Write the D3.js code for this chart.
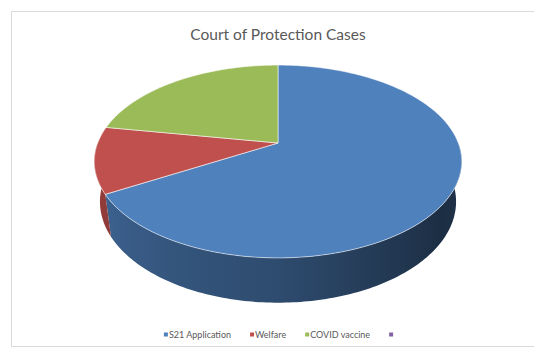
<!DOCTYPE html>
<html>
<head>
<meta charset="utf-8">
<script src="https://cdn.jsdelivr.net/npm/d3@7"></script>
<style>
  html, body { margin: 0; padding: 0; background: #ffffff; }
  svg { display: block; }
</style>
</head>
<body>
<svg id="chart" width="534" height="349"></svg>
<script>
// Court of Protection cases by type
const categories = ["S21 Application", "Welfare", "COVID vaccine", ""];
const values = [6, 1, 2, 0];
const seriesColors = ["#4f81bd", "#c0504d", "#9bbb59", "#8064a2"];
const chartTitle = "Court of Protection Cases";

const W = 534, H = 349;
const svg = d3.select("#chart");
const defs = svg.append("defs");

// chart frame
svg.append("rect")
  .attr("x", 11.5).attr("y", 11.5)
  .attr("width", W).attr("height", 335)
  .attr("fill", "#ffffff")
  .attr("stroke", "#d9d9d9");

// title
svg.append("text")
  .attr("x", 278).attr("y", 40)
  .attr("text-anchor", "middle")
  .attr("font-family", "Lato, 'Open Sans', sans-serif")
  .attr("font-size", 15.5)
  .attr("fill", "#595959")
  .text(chartTitle);

// --- 3D pie projection (perspective view of a tilted disc) ---
const cx = 278, cy = 143;          // screen position of pie centre (top face)
const elev = 31 * Math.PI / 180;   // viewing elevation
const sE = Math.sin(elev), cE = Math.cos(elev);
const dist = 4.47;                 // camera distance (in radius units)
const focal = 806;                 // projection scale
const thick = 0.266;               // pie thickness (in radius units)

function project(phi, r, z) {
  // phi: clockwise from 12 o'clock; z: 0 = top face, 1 = bottom face
  const X = r * Math.sin(phi);
  const Y = -r * Math.cos(phi);      // positive towards the viewer
  const Z = -thick * z;
  const depth = dist - Y * cE - Z * sE;
  return [cx + focal * X / depth, cy + focal * (Y * sE - Z * cE) / depth];
}

const pie = d3.pie().sort(null).value(d => d.value);
const arcs = pie(categories.map((c, i) => ({ name: c, value: values[i], color: seriesColors[i] })))
  .filter(a => a.endAngle - a.startAngle > 0);

// side wall shading: darkness by angle around the rim (degrees)
const sideDark = d3.scaleLinear()
  .domain([90, 125, 180, 240, 270])
  .range([2.3, 2.9, 1.5, 0.8, 0.7])
  .clamp(true);

const step = Math.PI / 180;
const line = d3.line();

// front wall of each slice, shaded with a horizontal gradient that follows the rim angle
const xLeft = project(3 * Math.PI / 2, 1, 0)[0];
const xRight = project(Math.PI / 2, 1, 0)[0];
const gSide = svg.append("g");
arcs.forEach((a, i) => {
  const lo = Math.max(a.startAngle, Math.PI / 2);
  const hi = Math.min(a.endAngle, 3 * Math.PI / 2);
  if (hi <= lo) return;
  const n = Math.max(2, Math.ceil((hi - lo) / step));
  const topPts = [], botPts = [];
  for (let k = 0; k <= n; k++) {
    const p = lo + (hi - lo) * k / n;
    topPts.push(project(p, 1, 0));
    botPts.push(project(p, 1, 1));
  }
  const grad = defs.append("linearGradient")
    .attr("id", "side" + i)
    .attr("gradientUnits", "userSpaceOnUse")
    .attr("x1", xLeft).attr("y1", 0)
    .attr("x2", xRight).attr("y2", 0);
  const stops = [];
  for (let deg = 270; deg >= 90; deg -= 5) {
    const px = project(deg * Math.PI / 180, 1, 0.5)[0];
    stops.push({
      off: (px - xLeft) / (xRight - xLeft),
      color: d3.color(a.data.color).darker(sideDark(deg)).formatHex()
    });
  }
  grad.selectAll("stop").data(stops).join("stop")
    .attr("offset", d => Math.max(0, Math.min(1, d.off)))
    .attr("stop-color", d => d.color);
  gSide.append("path")
    .attr("d", line(topPts.concat(botPts.reverse())) + "Z")
    .attr("fill", `url(#side${i})`);
});

// top faces
function topPath(a) {
  const pts = [project(0, 0, 0)];
  const n = Math.max(2, Math.ceil((a.endAngle - a.startAngle) / step));
  for (let k = 0; k <= n; k++) {
    pts.push(project(a.startAngle + (a.endAngle - a.startAngle) * k / n, 1, 0));
  }
  return line(pts) + "Z";
}
svg.append("g").selectAll("path")
  .data(arcs)
  .join("path")
  .attr("d", topPath)
  .attr("fill", d => d.data.color)
  .attr("stroke", "rgba(255,255,255,0.55)")
  .attr("stroke-width", 1)
  .attr("stroke-linejoin", "round");

// legend
const legend = svg.append("g");
const items = legend.selectAll("g")
  .data(categories.map((c, i) => ({ name: c, color: seriesColors[i] })))
  .join("g");
items.append("rect")
  .attr("width", 4).attr("height", 4)
  .attr("y", -2.5)
  .attr("fill", d => d.color);
items.append("text")
  .attr("x", 5).attr("y", 0)
  .attr("dy", "0.32em")
  .attr("font-family", "Lato, 'Open Sans', sans-serif")
  .attr("font-size", 9)
  .attr("fill", "#595959")
  .text(d => d.name);

const gap = 19;
const widths = [];
items.each(function () {
  const t = d3.select(this).select("text").node();
  widths.push(5 + t.getComputedTextLength());
});
const total = widths.reduce((s, w) => s + w, 0) + gap * (widths.length - 1);
let xpos = 279 - total / 2;
items.each(function (d, i) {
  d3.select(this).attr("transform", `translate(${xpos},335)`);
  xpos += widths[i] + gap;
});
</script>
</body>
</html>
